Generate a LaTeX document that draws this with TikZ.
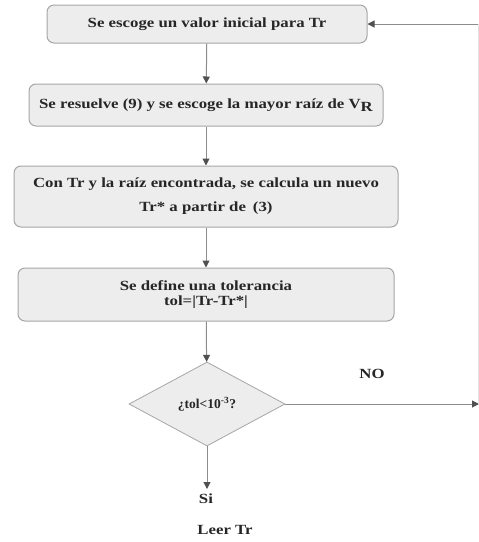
\documentclass[tikz,border=0pt]{standalone}
\usepackage{fontspec}
\setmainfont{Liberation Serif}[FakeStretch=1.2]
\newfontfamily\narrowfont{Liberation Serif}
\usetikzlibrary{arrows.meta,shapes.geometric}
\definecolor{txt}{HTML}{262626}
\definecolor{edge}{HTML}{A6A6A6}
\definecolor{boxfill}{HTML}{EDEDED}
\definecolor{ln}{HTML}{8C8C8C}
\definecolor{tip}{HTML}{505050}
\tikzset{
  stepbox/.style={draw=edge, line width=1pt, fill=boxfill, rounded corners=7pt,
    inner sep=0pt, align=center, text=txt, font=\fontsize{14}{15}\selectfont\bfseries},
  decision/.style={diamond, draw=edge, line width=0.8pt, fill=boxfill, inner sep=0pt,
    minimum width=156pt, minimum height=84pt, align=center, text=txt,
    font=\narrowfont\fontsize{13.5}{15}\selectfont\bfseries},
  plain/.style={text=txt, inner sep=0pt, font=\fontsize{14}{15}\selectfont\bfseries},
  conn/.style={draw=ln, line width=1pt, -{Triangle[width=7pt,length=7pt,fill=tip,color=tip]}},
  faint/.style={draw=ln!25, line width=0.6pt}
}
\begin{document}
\begin{tikzpicture}[x=1pt,y=-1pt]
\useasboundingbox (0,0) rectangle (479,542);
\node[stepbox, minimum width=320pt, minimum height=38pt] (b1) at (207,24)
  {Se escoge un valor inicial para Tr};
\node[stepbox, minimum width=354pt, minimum height=42pt] (b2) at (206,105)
  {Se resuelve (9) y se escoge la mayor raíz de V\raisebox{-3pt}{R}};
\node[stepbox, minimum width=384pt, minimum height=61pt,
  font=\fontsize{14}{24}\selectfont\bfseries] (b3) at (206,196.5)
  {Con Tr y la raíz encontrada, se calcula un nuevo\\Tr* a partir de\enspace(3)};
\node[stepbox, minimum width=376pt, minimum height=53pt] (b4) at (206,294.5)
  {Se define una tolerancia\\tol=|Tr-Tr*|};
\node[decision] (d) at (207,404) {¿tol<10\textsuperscript{-3}?};
\node[plain] (si) at (206,499) {Si};
\node[plain] (leer) at (225,530) {Leer Tr};
\node[plain] (no) at (372,374) {NO};
\coordinate (noend) at (479,404);
\coordinate (fbtop) at (478,24);
\coordinate (fbbot) at (478,404);
\coordinate (siend) at (207,489);
\draw[conn] (b1) -- (b2);
\draw[conn] (b2) -- (b3);
\draw[conn] (b3) -- (b4);
\draw[conn] (b4) -- (d);
\draw[conn] (d) -- (siend);
\draw[conn] (d.east) -- (noend);
\draw[faint] (fbbot) -- (fbtop);
\draw[conn] (fbtop) -- (b1.east);
\end{tikzpicture}
\end{document}
